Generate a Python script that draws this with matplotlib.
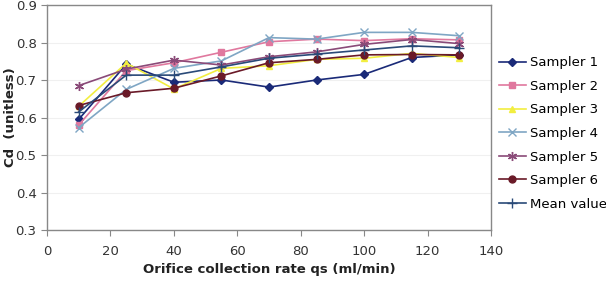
import matplotlib
matplotlib.use("Agg")
import matplotlib.pyplot as plt

rates = [10, 25, 40, 55, 70, 85, 100, 115, 130]
sampler1 = [0.595, 0.742, 0.694, 0.700, 0.681, 0.700, 0.715, 0.760, 0.767]
sampler2 = [0.580, 0.725, 0.746, 0.774, 0.802, 0.809, 0.805, 0.810, 0.807]
sampler3 = [0.630, 0.745, 0.676, 0.731, 0.738, 0.755, 0.758, 0.771, 0.760]
sampler4 = [0.573, 0.675, 0.731, 0.751, 0.813, 0.809, 0.827, 0.827, 0.818]
sampler5 = [0.685, 0.729, 0.753, 0.740, 0.762, 0.775, 0.795, 0.808, 0.797]
sampler6 = [0.632, 0.666, 0.678, 0.711, 0.746, 0.755, 0.767, 0.768, 0.767]
mean_value = [0.615, 0.713, 0.713, 0.735, 0.758, 0.769, 0.780, 0.791, 0.786]

labels = ["Sampler 1", "Sampler 2", "Sampler 3", "Sampler 4", "Sampler 5", "Sampler 6", "Mean value"]
series = [sampler1, sampler2, sampler3, sampler4, sampler5, sampler6, mean_value]
colors = ["#1a2a78", "#e0789e", "#f2ee40", "#7fa6c4", "#8a4a78", "#6a1a28", "#2a4a78"]
markers = ["D", "s", "^", "x", (6, 2, 0), "o", "+"]
msizes = [4.5, 4.5, 5, 6, 6.5, 5, 7]

fig = plt.figure(figsize=(6.06, 2.84), dpi=100)
W, H = 606, 284
ax = fig.add_axes([47 / W, 1 - 230 / H, (491 - 47) / W, (230 - 5) / H])

for s, lab, c, m, ms in zip(series, labels, colors, markers, msizes):
    ax.plot(rates, s, color=c, marker=m, markersize=ms, linewidth=1.2,
            markeredgewidth=1.0, markeredgecolor=c, markerfacecolor=c, label=lab)

ax.set_xlim(0, 140)
ax.set_ylim(0.3, 0.9)
ax.set_xticks(range(0, 141, 20))
ax.set_yticks([0.3, 0.4, 0.5, 0.6, 0.7, 0.8, 0.9])
ax.set_yticklabels(["0.3", "0.4", "0.5", "0.6", "0.7", "0.8", "0.9"])
ax.yaxis.grid(True, color="#f0f0f0", linewidth=0.8)
ax.set_axisbelow(True)
for sp in ax.spines.values():
    sp.set_color("#888888")
    sp.set_linewidth(1.0)
ax.tick_params(direction="out", length=4, color="#888888", labelsize=9.5,
               labelcolor="#333333")
ax.tick_params(axis="x", pad=7)

ax.set_xlabel("Orifice collection rate qs (ml/min)", fontsize=9.5,
              fontweight="bold", color="#222222")
ax.xaxis.set_label_coords(0.5, -(270 - 230) / 225, transform=ax.transAxes)
ax.set_ylabel("Cd  (unitless)", fontsize=9.5, fontweight="bold",
              color="#222222")
ax.yaxis.set_label_coords((11 - 47) / 444, 0.5, transform=ax.transAxes)
ax.xaxis.label.set_verticalalignment("center")
ax.yaxis.label.set_verticalalignment("center")

fig.legend(loc="upper left", bbox_to_anchor=(494 / W, 1 - 51 / H),
           frameon=False, fontsize=9.5, handlelength=2.0, handletextpad=0.3,
           labelspacing=0.8, borderaxespad=0)

fig.savefig("out.png", dpi=100)
